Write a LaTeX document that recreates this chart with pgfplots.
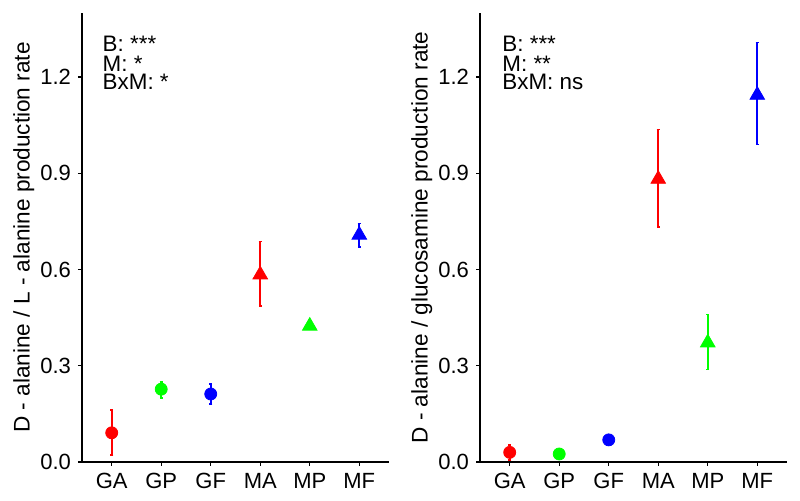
\documentclass[border=0pt]{standalone}
\usepackage{fontspec}
\setmainfont{Liberation Sans}
\usepackage{pgfplots}
\pgfplotsset{compat=1.18}

\definecolor{ggred}{RGB}{255,0,0}
\definecolor{gggreen}{RGB}{0,255,0}
\definecolor{ggblue}{RGB}{0,0,255}

\tikzset{ann/.style={anchor=base west, inner sep=0pt, font=\fontsize{11.2}{12}\selectfont}}

\pgfplotsset{
  panel/.style={
    scale only axis, width=153.5pt, height=224.5pt,
    anchor=south west,
    xmin=-0.6, xmax=5.6, ymin=0, ymax=1.40,
    axis x line*=bottom, axis y line*=left,
    axis line style={-, line width=0.7pt, black},
    every outer x axis line/.append style={-},
    every outer y axis line/.append style={-},
    xtick={0,...,5}, xticklabels={GA,GP,GF,MA,MP,MF},
    ytick={0,0.3,0.6,0.9,1.2},
    yticklabel style={/pgf/number format/.cd, fixed, fixed zerofill, precision=1},
    /pgf/number format/assume math mode=true,
    tick align=outside, major tick length=2pt,
    tick style={line width=0.7pt, black},
    ticklabel style={font=\fontsize{11}{12}\selectfont},
    ylabel style={font=\fontsize{11.3}{13}\selectfont, at={(axis description cs:-0.19,0.5)}, anchor=center},
    clip=false,
  },
  pt/.style={only marks, color=#1,
    error bars/y dir=both, error bars/y explicit,
    error bars/error bar style={line width=0.8pt, color=#1},
    error bars/error mark options={rotate=90, mark size=0.8pt, line width=0.8pt, color=#1}},
  circ/.style={mark=*, mark size=3pt},
  tri/.style={mark=triangle*, mark size=4.2pt},
}

\begin{document}
\begin{tikzpicture}
\path[use as bounding box] (0,0) rectangle (400pt,250.5pt);

\begin{axis}[panel, at={(41pt,19.5pt)},
  ylabel={D - alanine / L - alanine production rate}]
\addplot[pt=ggred, circ] coordinates {(0,0.091) += (0,0.071) -= (0,0.069)};
\addplot[pt=gggreen, circ] coordinates {(1,0.227) += (0,0.023) -= (0,0.027)};
\addplot[pt=ggblue, circ] coordinates {(2,0.212) += (0,0.031) -= (0,0.031)};
\addplot[pt=ggred, tri] coordinates {(3,0.584) += (0,0.103) -= (0,0.098)};
\addplot[pt=gggreen, tri] coordinates {(4,0.424) += (0,0.008) -= (0,0.008)};
\addplot[pt=ggblue, tri] coordinates {(5,0.708) += (0,0.036) -= (0,0.037)};
\node[ann] at (axis cs:-0.19,1.279) {B: ***};
\node[ann] at (axis cs:-0.19,1.219) {M: *};
\node[ann] at (axis cs:-0.19,1.160) {BxM: *};
\end{axis}

\begin{axis}[panel, at={(240pt,19.5pt)},
  ylabel={D - alanine / glucosamine production rate}]
\addplot[pt=ggred, circ] coordinates {(0,0.030) += (0,0.023) -= (0,0.024)};
\addplot[pt=gggreen, circ] coordinates {(1,0.025) += (0,0.005) -= (0,0.005)};
\addplot[pt=ggblue, circ] coordinates {(2,0.069) += (0,0.005) -= (0,0.005)};
\addplot[pt=ggred, tri] coordinates {(3,0.882) += (0,0.155) -= (0,0.150)};
\addplot[pt=gggreen, tri] coordinates {(4,0.372) += (0,0.088) -= (0,0.083)};
\addplot[pt=ggblue, tri] coordinates {(5,1.144) += (0,0.164) -= (0,0.154)};
\node[ann] at (axis cs:-0.155,1.279) {B: ***};
\node[ann] at (axis cs:-0.155,1.219) {M: **};
\node[ann] at (axis cs:-0.155,1.160) {BxM: ns};
\end{axis}
\end{tikzpicture}
\end{document}
